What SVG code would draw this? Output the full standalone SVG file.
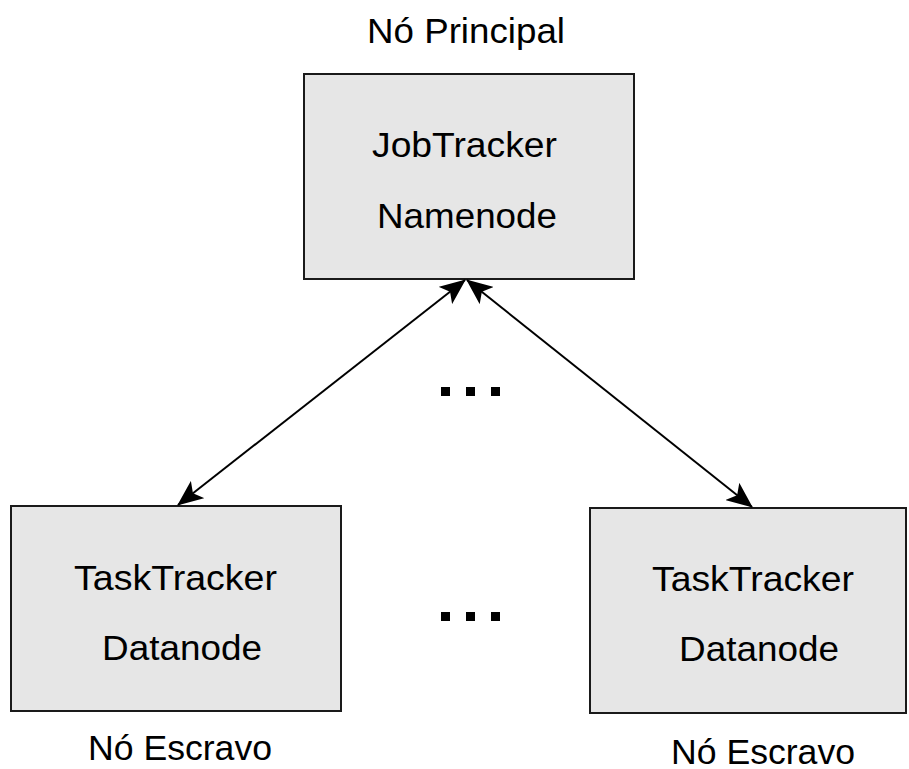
<svg xmlns="http://www.w3.org/2000/svg" width="909" height="769" viewBox="0 0 909 769">
  <style>
    .box { fill: #e6e6e6; stroke: #1a1a1a; stroke-width: 2; }
    .lbl { font-family: "Liberation Sans", Arimo, Arial, Helvetica, sans-serif; font-size: 35px; fill: #000; }
    .link { fill: none; stroke: #000; stroke-width: 2; }
    .dot { fill: #000; }
  </style>
  <defs>
    <marker id="arrow" viewBox="0 0 26 22" refX="25" refY="11" markerWidth="26" markerHeight="22" markerUnits="userSpaceOnUse" orient="auto-start-reverse">
      <path d="M0,0 L26,11 L0,22 L6,11 Z" fill="#000"/>
    </marker>
  </defs>

  <rect width="909" height="769" fill="#fff"/>

  <!-- master node -->
  <g id="master">
    <text class="lbl" x="367" y="43" textLength="198" lengthAdjust="spacingAndGlyphs">Nó Principal</text>
    <rect class="box" x="304" y="74" width="330" height="205"/>
    <text class="lbl" x="372" y="157" textLength="185" lengthAdjust="spacingAndGlyphs">JobTracker</text>
    <text class="lbl" x="377" y="228" textLength="180" lengthAdjust="spacingAndGlyphs">Namenode</text>
  </g>

  <!-- worker node, left -->
  <g id="worker-left">
    <rect class="box" x="11" y="506" width="330" height="205"/>
    <text class="lbl" x="74" y="590" textLength="203" lengthAdjust="spacingAndGlyphs">TaskTracker</text>
    <text class="lbl" x="102" y="660" textLength="160" lengthAdjust="spacingAndGlyphs">Datanode</text>
    <text class="lbl" x="88" y="760" textLength="184" lengthAdjust="spacingAndGlyphs">Nó Escravo</text>
  </g>

  <!-- worker node, right -->
  <g id="worker-right">
    <rect class="box" x="590" y="508" width="316" height="205"/>
    <text class="lbl" x="652" y="591" textLength="202" lengthAdjust="spacingAndGlyphs">TaskTracker</text>
    <text class="lbl" x="679" y="661" textLength="160" lengthAdjust="spacingAndGlyphs">Datanode</text>
    <text class="lbl" x="671" y="764" textLength="184" lengthAdjust="spacingAndGlyphs">Nó Escravo</text>
  </g>

  <!-- ellipses marking further workers -->
  <g id="ellipsis-top">
    <rect class="dot" x="441" y="387" width="9" height="9"/>
    <rect class="dot" x="466" y="387" width="9" height="9"/>
    <rect class="dot" x="491" y="387" width="9" height="9"/>
  </g>
  <g id="ellipsis-bottom">
    <rect class="dot" x="441" y="612" width="9" height="9"/>
    <rect class="dot" x="466" y="612" width="9" height="9"/>
    <rect class="dot" x="491" y="612" width="9" height="9"/>
  </g>

  <!-- bidirectional links -->
  <g id="connectors">
    <path class="link" d="M465,280 L178,505" marker-start="url(#arrow)" marker-end="url(#arrow)"/>
    <path class="link" d="M467,280 L752,507" marker-start="url(#arrow)" marker-end="url(#arrow)"/>
  </g>
</svg>
